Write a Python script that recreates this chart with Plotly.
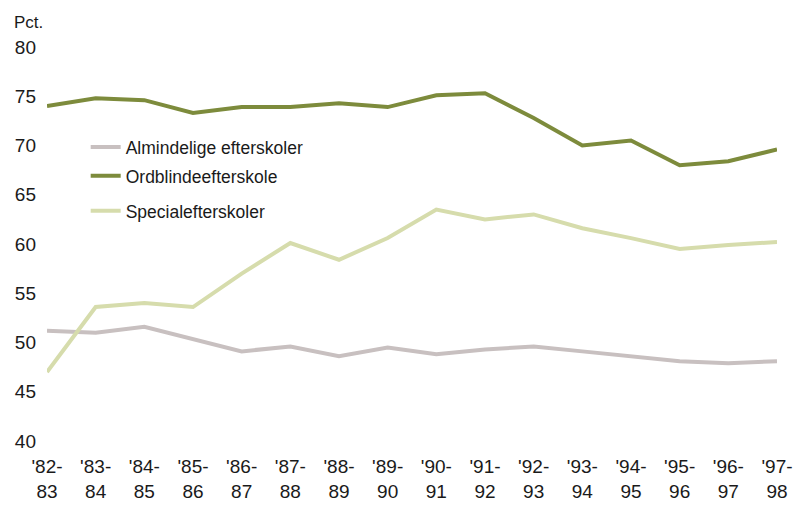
import plotly.graph_objects as go

periods = ["'82-<br>83", "'83-<br>84", "'84-<br>85", "'85-<br>86", "'86-<br>87", "'87-<br>88",
           "'88-<br>89", "'89-<br>90", "'90-<br>91", "'91-<br>92", "'92-<br>93", "'93-<br>94",
           "'94-<br>95", "'95-<br>96", "'96-<br>97", "'97-<br>98"]

almindelige = [51.2, 51.0, 51.6, 50.3, 49.1, 49.6, 48.6, 49.5, 48.8, 49.3, 49.6, 49.1, 48.6, 48.1, 47.9, 48.1]
ordblinde = [74.0, 74.8, 74.6, 73.3, 73.9, 73.9, 74.3, 73.9, 75.1, 75.3, 72.8, 70.0, 70.5, 68.0, 68.4, 69.6]
special = [47.0, 53.6, 54.0, 53.6, 57.0, 60.1, 58.4, 60.6, 63.5, 62.5, 63.0, 61.6, 60.6, 59.5, 59.9, 60.2]

names = ["Almindelige efterskoler", "Ordblindeefterskole", "Specialefterskoler"]
colors = ["#c8c0c0", "#7d8b3c", "#d6dcac"]
legend_ids = ["legend", "legend2", "legend3"]
legend_y = [0.746, 0.673, 0.584]

FONT = "Liberation Sans, Arial, sans-serif"

x = list(range(len(periods)))
fig = go.Figure()
for name, vals, col, lg in zip(names, [almindelige, ordblinde, special], colors, legend_ids):
    fig.add_trace(go.Scatter(x=x, y=vals, mode="lines", name=name, legend=lg,
                             line=dict(color=col, width=4)))

legend_common = dict(x=0.053, xanchor="left", yanchor="middle",
                     bgcolor="rgba(0,0,0,0)", font=dict(size=17.5, family=FONT))

fig.update_layout(
    width=797, height=506,
    margin=dict(l=47, r=20, t=47, b=65, autoexpand=False),
    paper_bgcolor="white", plot_bgcolor="white",
    font=dict(family=FONT, color="#1a1a1a", size=18),
    showlegend=True,
    legend=dict(y=legend_y[0], **legend_common),
    legend2=dict(y=legend_y[1], **legend_common),
    legend3=dict(y=legend_y[2], **legend_common),
    xaxis=dict(range=[0, 15], tickmode="array", tickvals=x, ticktext=periods,
               showgrid=False, zeroline=False, showline=False, ticks="",
               automargin=False, ticklabelstandoff=12,
               tickfont=dict(size=19, family=FONT)),
    yaxis=dict(range=[40, 80], tickvals=[40, 45, 50, 55, 60, 65, 70, 75, 80],
               showgrid=False, zeroline=False, showline=False, ticks="",
               automargin=False, ticklabelstandoff=10,
               tickfont=dict(size=19, family=FONT)),
)
fig.layout.annotations = [dict(text="Pct.", xref="paper", yref="paper", x=-0.048, y=1.0,
                               yshift=25, xanchor="left", yanchor="middle", showarrow=False,
                               font=dict(size=17, family=FONT))]
fig.write_html("out.html", config={"displayModeBar": False},
               post_script="document.body.style.margin='0';")
